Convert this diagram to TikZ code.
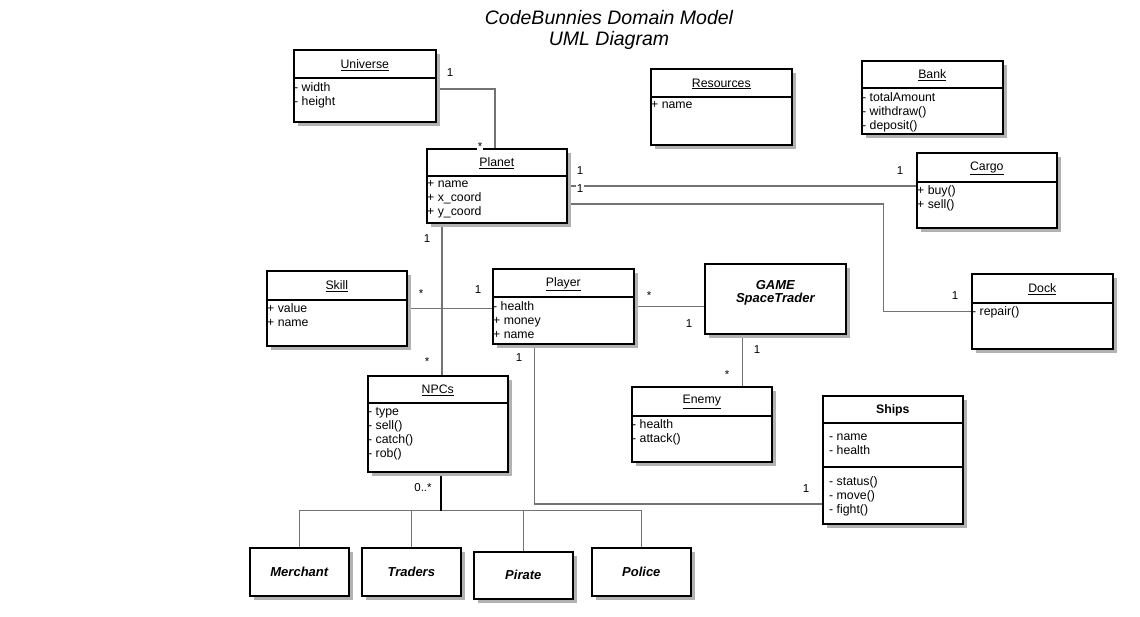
\documentclass[tikz,border=0pt]{standalone}
\usepackage{fontspec}
\setmainfont{Liberation Sans}
\usetikzlibrary{shadows, calc, backgrounds}
\tikzset{
    classbox/.style={
        rectangle,
        draw=black,
        line width=1.6pt,
        fill=white,
        anchor=north west,
        inner sep=0pt,
        drop shadow={shadow xshift=4pt, shadow yshift=-4pt, fill=black!30, opacity=1}
    },
    classname/.style={
        font=\fontsize{12.3}{14}\selectfont,
        inner sep=0pt
    },
    attrs/.style={
        font=\fontsize{12.3}{14}\selectfont,
        anchor=north west,
        align=left,
        inner sep=1pt
    },
    subname/.style={
        font=\fontsize{13}{13}\selectfont\bfseries\itshape,
        align=center,
        inner sep=0pt
    },
    sepline/.style={
        draw=black,
        line width=1.6pt
    },
    assoc/.style={
        draw=black!55,
        line width=1.5pt
    },
    mult/.style={
        font=\fontsize{11.5}{11.5}\selectfont,
        fill=white,
        inner sep=1pt
    }
}

\begin{document}
\begin{tikzpicture}[x=1pt, y=-1pt]
\useasboundingbox (0,0) rectangle (1140,616);

\node[font=\fontsize{19.5}{21}\selectfont\itshape, align=center] (title) at (609,30) {CodeBunnies Domain Model\\UML Diagram};

% classes
\node[classbox, minimum width=142pt, minimum height=72pt] (universe) at (293,49) {};
\draw[sepline] ([yshift=-29pt]universe.north west) -- ([yshift=-29pt]universe.north east);
\node[classname] (universe-t) at ([yshift=-16pt]universe.north) {\underline{Universe}};
\node[attrs] (universe-a) at ([yshift=-32pt]universe.north west) {- width\\- height};

\node[classbox, minimum width=140pt, minimum height=74pt] (planet) at (426,148) {};
\draw[sepline] ([yshift=-28pt]planet.north west) -- ([yshift=-28pt]planet.north east);
\node[classname] (planet-t) at ([yshift=-15pt]planet.north) {\underline{Planet}};
\node[attrs] (planet-a) at ([yshift=-31pt]planet.north west) {+ name\\+ x\_coord\\+ y\_coord};

\node[classbox, minimum width=141pt, minimum height=76pt] (resources) at (650,68) {};
\draw[sepline] ([yshift=-29pt]resources.north west) -- ([yshift=-29pt]resources.north east);
\node[classname] (resources-t) at ([yshift=-16pt]resources.north) {\underline{Resources}};
\node[attrs] (resources-a) at ([yshift=-32pt]resources.north west) {+ name};

\node[classbox, minimum width=141pt, minimum height=73pt] (bank) at (861,60) {};
\draw[sepline] ([yshift=-28pt]bank.north west) -- ([yshift=-28pt]bank.north east);
\node[classname] (bank-t) at ([yshift=-15pt]bank.north) {\underline{Bank}};
\node[attrs] (bank-a) at ([yshift=-31pt]bank.north west) {- totalAmount\\- withdraw()\\- deposit()};

\node[classbox, minimum width=140pt, minimum height=75pt] (cargo) at (916,152) {};
\draw[sepline] ([yshift=-30pt]cargo.north west) -- ([yshift=-30pt]cargo.north east);
\node[classname] (cargo-t) at ([yshift=-16pt]cargo.north) {\underline{Cargo}};
\node[attrs] (cargo-a) at ([yshift=-32pt]cargo.north west) {+ buy()\\+ sell()};

\node[classbox, minimum width=141pt, minimum height=75pt] (dock) at (971,273) {};
\draw[sepline] ([yshift=-30pt]dock.north west) -- ([yshift=-30pt]dock.north east);
\node[classname] (dock-t) at ([yshift=-16pt]dock.north) {\underline{Dock}};
\node[attrs] (dock-a) at ([yshift=-32pt]dock.north west) {- repair()};

\node[classbox, minimum width=140pt, minimum height=75pt] (skill) at (266,270) {};
\draw[sepline] ([yshift=-30pt]skill.north west) -- ([yshift=-30pt]skill.north east);
\node[classname] (skill-t) at ([yshift=-16pt]skill.north) {\underline{Skill}};
\node[attrs] (skill-a) at ([yshift=-32pt]skill.north west) {+ value\\+ name};

\node[classbox, minimum width=141pt, minimum height=75pt] (player) at (492,268) {};
\draw[sepline] ([yshift=-29pt]player.north west) -- ([yshift=-29pt]player.north east);
\node[classname] (player-t) at ([yshift=-16pt]player.north) {\underline{Player}};
\node[attrs] (player-a) at ([yshift=-32pt]player.north west) {- health\\+ money\\+ name};

\node[classbox, minimum width=141pt, minimum height=70pt] (game) at (704,263) {};
\node[subname, font=\fontsize{13}{13}\selectfont\bfseries\itshape] (game-t) at ([yshift=-30pt]game.north) {GAME\\SpaceTrader};

\node[classbox, minimum width=140pt, minimum height=96pt] (npcs) at (367,375) {};
\draw[sepline] ([yshift=-28pt]npcs.north west) -- ([yshift=-28pt]npcs.north east);
\node[classname] (npcs-t) at ([yshift=-15pt]npcs.north) {\underline{NPCs}};
\node[attrs] (npcs-a) at ([yshift=-31pt]npcs.north west) {- type\\- sell()\\- catch()\\- rob()};

\node[classbox, minimum width=140pt, minimum height=75pt] (enemy) at (631,386) {};
\draw[sepline] ([yshift=-30pt]enemy.north west) -- ([yshift=-30pt]enemy.north east);
\node[classname] (enemy-t) at ([yshift=-16pt]enemy.north) {\underline{Enemy}};
\node[attrs] (enemy-a) at ([yshift=-32pt]enemy.north west) {- health\\- attack()};

\node[classbox, minimum width=140pt, minimum height=128pt] (ships) at (822,395) {};
\draw[sepline] ([yshift=-28pt]ships.north west) -- ([yshift=-28pt]ships.north east);
\draw[sepline] ([yshift=-72pt]ships.north west) -- ([yshift=-72pt]ships.north east);
\node[classname, font=\fontsize{12.3}{14}\selectfont\bfseries] (ships-t) at ([yshift=-15pt]ships.north) {Ships};
\node[attrs] (ships-a) at ([xshift=6pt, yshift=-38pt]ships.north west) {- name\\- health};
\node[attrs] (ships-m) at ([xshift=6pt, yshift=-80pt]ships.north west) {- status()\\- move()\\- fight()};

% subclasses of NPCs
\node[classbox, minimum width=99pt, minimum height=48pt] (merchant) at (249,547) {};
\node[subname] (merchant-t) at (merchant.center) {Merchant};
\node[classbox, minimum width=99pt, minimum height=48pt] (traders) at (361,547) {};
\node[subname] (traders-t) at (traders.center) {Traders};
\node[classbox, minimum width=99pt, minimum height=47pt] (pirate) at (473,551) {};
\node[subname] (pirate-t) at (pirate.center) {Pirate};
\node[classbox, minimum width=99pt, minimum height=48pt] (police) at (591,547) {};
\node[subname] (police-t) at (police.center) {Police};

% connectors
\coordinate (dockbend) at ($(planet.east)+(316,18)$);
\coordinate (npcline) at ($(npcs.north)+(4,0)$);
\coordinate (gameline) at ($(game.south)+(-33,0)$);
\coordinate (playerline) at ($(player.south)+(-29,0)$);
\coordinate (shipsend) at ($(ships.west)+(0,44)$);
\coordinate (npcjoin) at ($(npcs.south)+(3,38)$);

\begin{scope}[on background layer]
\draw[assoc] ([yshift=-3pt]universe.east) -| ([xshift=-2pt]planet.north);
\draw[assoc] (planet.east) -- (planet.east -| cargo.west);
\draw[assoc] ([yshift=-18pt]planet.east) -- (dockbend) |- (dock.west);
\draw[assoc] (npcline) -- (npcline |- planet.south);
\draw[assoc] (skill.east) -- (skill.east -| player.west);
\draw[assoc] (player.east) -- (player.east -| game.west);
\draw[assoc] (gameline) -- (gameline |- enemy.north);
\draw[assoc] (playerline) |- (shipsend);
\foreach \sub in {merchant, traders, pirate, police}
    \draw[assoc] (npcjoin) -| (\sub.north);
\draw[black, line width=1.6pt] ($(npcs.south)+(3,0)$) -- (npcjoin);
\end{scope}

% multiplicities
\node[mult] (m-uni) at (450,73) {1};
\node[mult] (m-uni-pl) at (480,147) {*};
\node[mult] (m-pl-dock) at (580,171) {1};
\node[mult] (m-pl-cargo) at (580,189) {1};
\node[mult] (m-cargo) at (900,171) {1};
\node[mult] (m-dock) at (955,296) {1};
\node[mult] (m-pl-npc) at (427,239) {1};
\node[mult] (m-npc) at (427,362) {*};
\node[mult] (m-skill) at (421,294) {*};
\node[mult] (m-pl-skill) at (478,290) {1};
\node[mult] (m-pl-game) at (649,296) {*};
\node[mult] (m-game) at (689,324) {1};
\node[mult] (m-game-en) at (757,350) {1};
\node[mult] (m-enemy) at (727,375) {*};
\node[mult] (m-pl-ships) at (519,358) {1};
\node[mult] (m-ships) at (806,489) {1};
\node[mult] (m-npc-sub) at (423,488) {0..*};

\end{tikzpicture}
\end{document}
